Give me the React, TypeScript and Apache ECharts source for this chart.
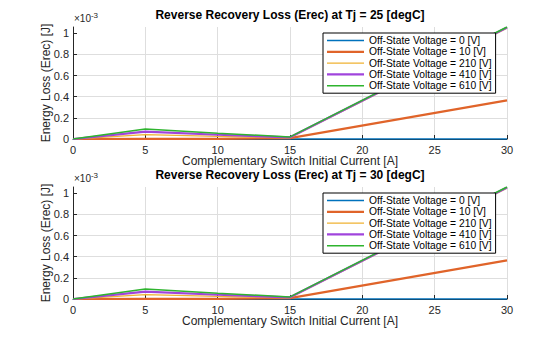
import React, { useEffect, useRef } from "react";
import * as echarts from "echarts";

// Complementary switch initial current [A]
const currents = [0, 5, 10, 15, 30];
// Off-state voltages [V]
const voltages = [0, 10, 210, 410, 610];
// Reverse recovery energy, in units of 1e-3 J, Tj = 25 degC
const erec25_v0 = [0, 0, 0, 0, 0];
const erec25_v10 = [0, 0.002, 0.002, 0.008, 0.365];
const erec25_v210 = [0, 0.042, 0.025, 0.012, 1.05];
const erec25_v410 = [0, 0.07, 0.04, 0.016, 1.055];
const erec25_v610 = [0, 0.095, 0.055, 0.02, 1.06];
// Tj = 30 degC
const erec30_v0 = [0, 0, 0, 0, 0];
const erec30_v10 = [0, 0.002, 0.002, 0.008, 0.365];
const erec30_v210 = [0, 0.042, 0.025, 0.012, 1.05];
const erec30_v410 = [0, 0.07, 0.04, 0.016, 1.055];
const erec30_v610 = [0, 0.095, 0.055, 0.02, 1.06];

const temps = [25, 30];
const yTicks = [0, 0.2, 0.4, 0.6, 0.8, 1];

const colors = ["#0072BD", "#E0642A", "#EFB232", "#A044DC", "#2EB42E"];
const widths = [1.6, 2.2, 1.3, 2.2, 1.5];

const FONT = "'Liberation Sans', Arial, Helvetica, sans-serif";
const TXT = "#262626";

export default function App() {
  const ref = useRef<HTMLDivElement>(null);
  useEffect(() => {
    if (!ref.current) return;
    const chart = echarts.init(ref.current, null, { renderer: "svg" });
    const dataSets = [
      [erec25_v0, erec25_v10, erec25_v210, erec25_v410, erec25_v610],
      [erec30_v0, erec30_v10, erec30_v210, erec30_v410, erec30_v610],
    ];
    const names = voltages.map((v) => `Off-State Voltage = ${v} [V]`);
    const gridTops = [27, 187];
    const gridH = 112;

    const grids = gridTops.map((t) => ({ left: 73, top: t, width: 434, height: gridH, containLabel: false }));
    const xAxes = gridTops.map((_, i) => ({
      type: "value",
      gridIndex: i,
      min: 0,
      max: 30,
      interval: 5,
      name: "Complementary Switch Initial Current [A]",
      nameLocation: "middle",
      nameGap: 16,
      nameMoveOverlap: false,
      nameTextStyle: { fontFamily: FONT, fontSize: 12, color: TXT, verticalAlign: "top" },
      axisLine: { show: true, lineStyle: { color: TXT, width: 1 } },
      axisTick: { show: true, inside: true, length: 4, lineStyle: { color: TXT } },
      axisLabel: { fontFamily: FONT, fontSize: 11, color: TXT, margin: 5 },
      splitLine: { show: true, lineStyle: { color: "#dedede", width: 1 } },
    }));
    const yAxes = gridTops.map((_, i) => ({
      type: "value",
      gridIndex: i,
      min: 0,
      max: 1.06,
      interval: 0.2,
      name: "Energy Loss (Erec) [J]",
      nameLocation: "middle",
      nameGap: 21,
      nameMoveOverlap: false,
      nameRotate: 90,
      nameTextStyle: { fontFamily: FONT, fontSize: 12, color: TXT },
      axisLine: { show: true, lineStyle: { color: TXT, width: 1 } },
      axisTick: { show: true, inside: true, length: 4, lineStyle: { color: TXT }, customValues: yTicks },
      axisLabel: {
        fontFamily: FONT,
        fontSize: 11,
        color: TXT,
        margin: 4,
        customValues: yTicks,
        formatter: (v: number) => String(Math.round(v * 10) / 10),
      },
      splitLine: { show: true, showMaxLine: false, lineStyle: { color: "#dedede", width: 1 } },
    }));

    const series: any[] = [];
    dataSets.forEach((set, gi) => {
      set.forEach((vals, si) => {
        series.push({
          type: "line",
          name: names[si],
          xAxisIndex: gi,
          yAxisIndex: gi,
          data: currents.map((c, k) => [c, vals[k]]),
          symbol: "none",
          lineStyle: { color: colors[si], width: widths[si] },
          itemStyle: { color: colors[si] },
          z: 2,
        });
      });
    });

    const legends = gridTops.map((t) => ({
      orient: "vertical",
      left: 323,
      top: t + 6,
      z: 20,
      data: names.map((n, i) => ({ name: n, icon: `path://M0,0h37v${widths[i]}h-37z` })),
      itemWidth: 37,
      itemHeight: 11,
      itemGap: 0.3,
      padding: [2, 4, 2, 4],
      borderColor: "#000",
      borderWidth: 1,
      backgroundColor: "#fff",
      textStyle: { fontFamily: FONT, fontSize: 10.3, color: "#000", lineHeight: 11 },
    }));

    const titles = gridTops.map((t, i) => ({
      text: `Reverse Recovery Loss (Erec) at Tj = ${temps[i]} [degC]`,
      left: 290,
      textAlign: "center",
      top: t - 18,
      textStyle: { fontFamily: FONT, fontSize: 12, fontWeight: "bold", color: "#000" },
      padding: 0,
    }));

    const graphics = gridTops.map((t) => ({
      type: "text",
      left: 74,
      top: t - 16,
      z: 20,
      style: {
        text: "×10{sup|-3}",
        fontFamily: FONT,
        fontSize: 10,
        fill: TXT,
        rich: { sup: { fontSize: 8, verticalAlign: "top", padding: [0, 0, 6, 0], fontFamily: FONT, fill: TXT } },
      },
    }));

    chart.setOption({
      animation: false,
      backgroundColor: "#fff",
      title: titles,
      grid: grids,
      xAxis: xAxes,
      yAxis: yAxes,
      legend: legends,
      series,
      graphic: graphics,
    });
    return () => chart.dispose();
  }, []);
  return <div ref={ref} style={{ width: 560, height: 337, position: "absolute", left: 0, top: 0 }} />;
}
